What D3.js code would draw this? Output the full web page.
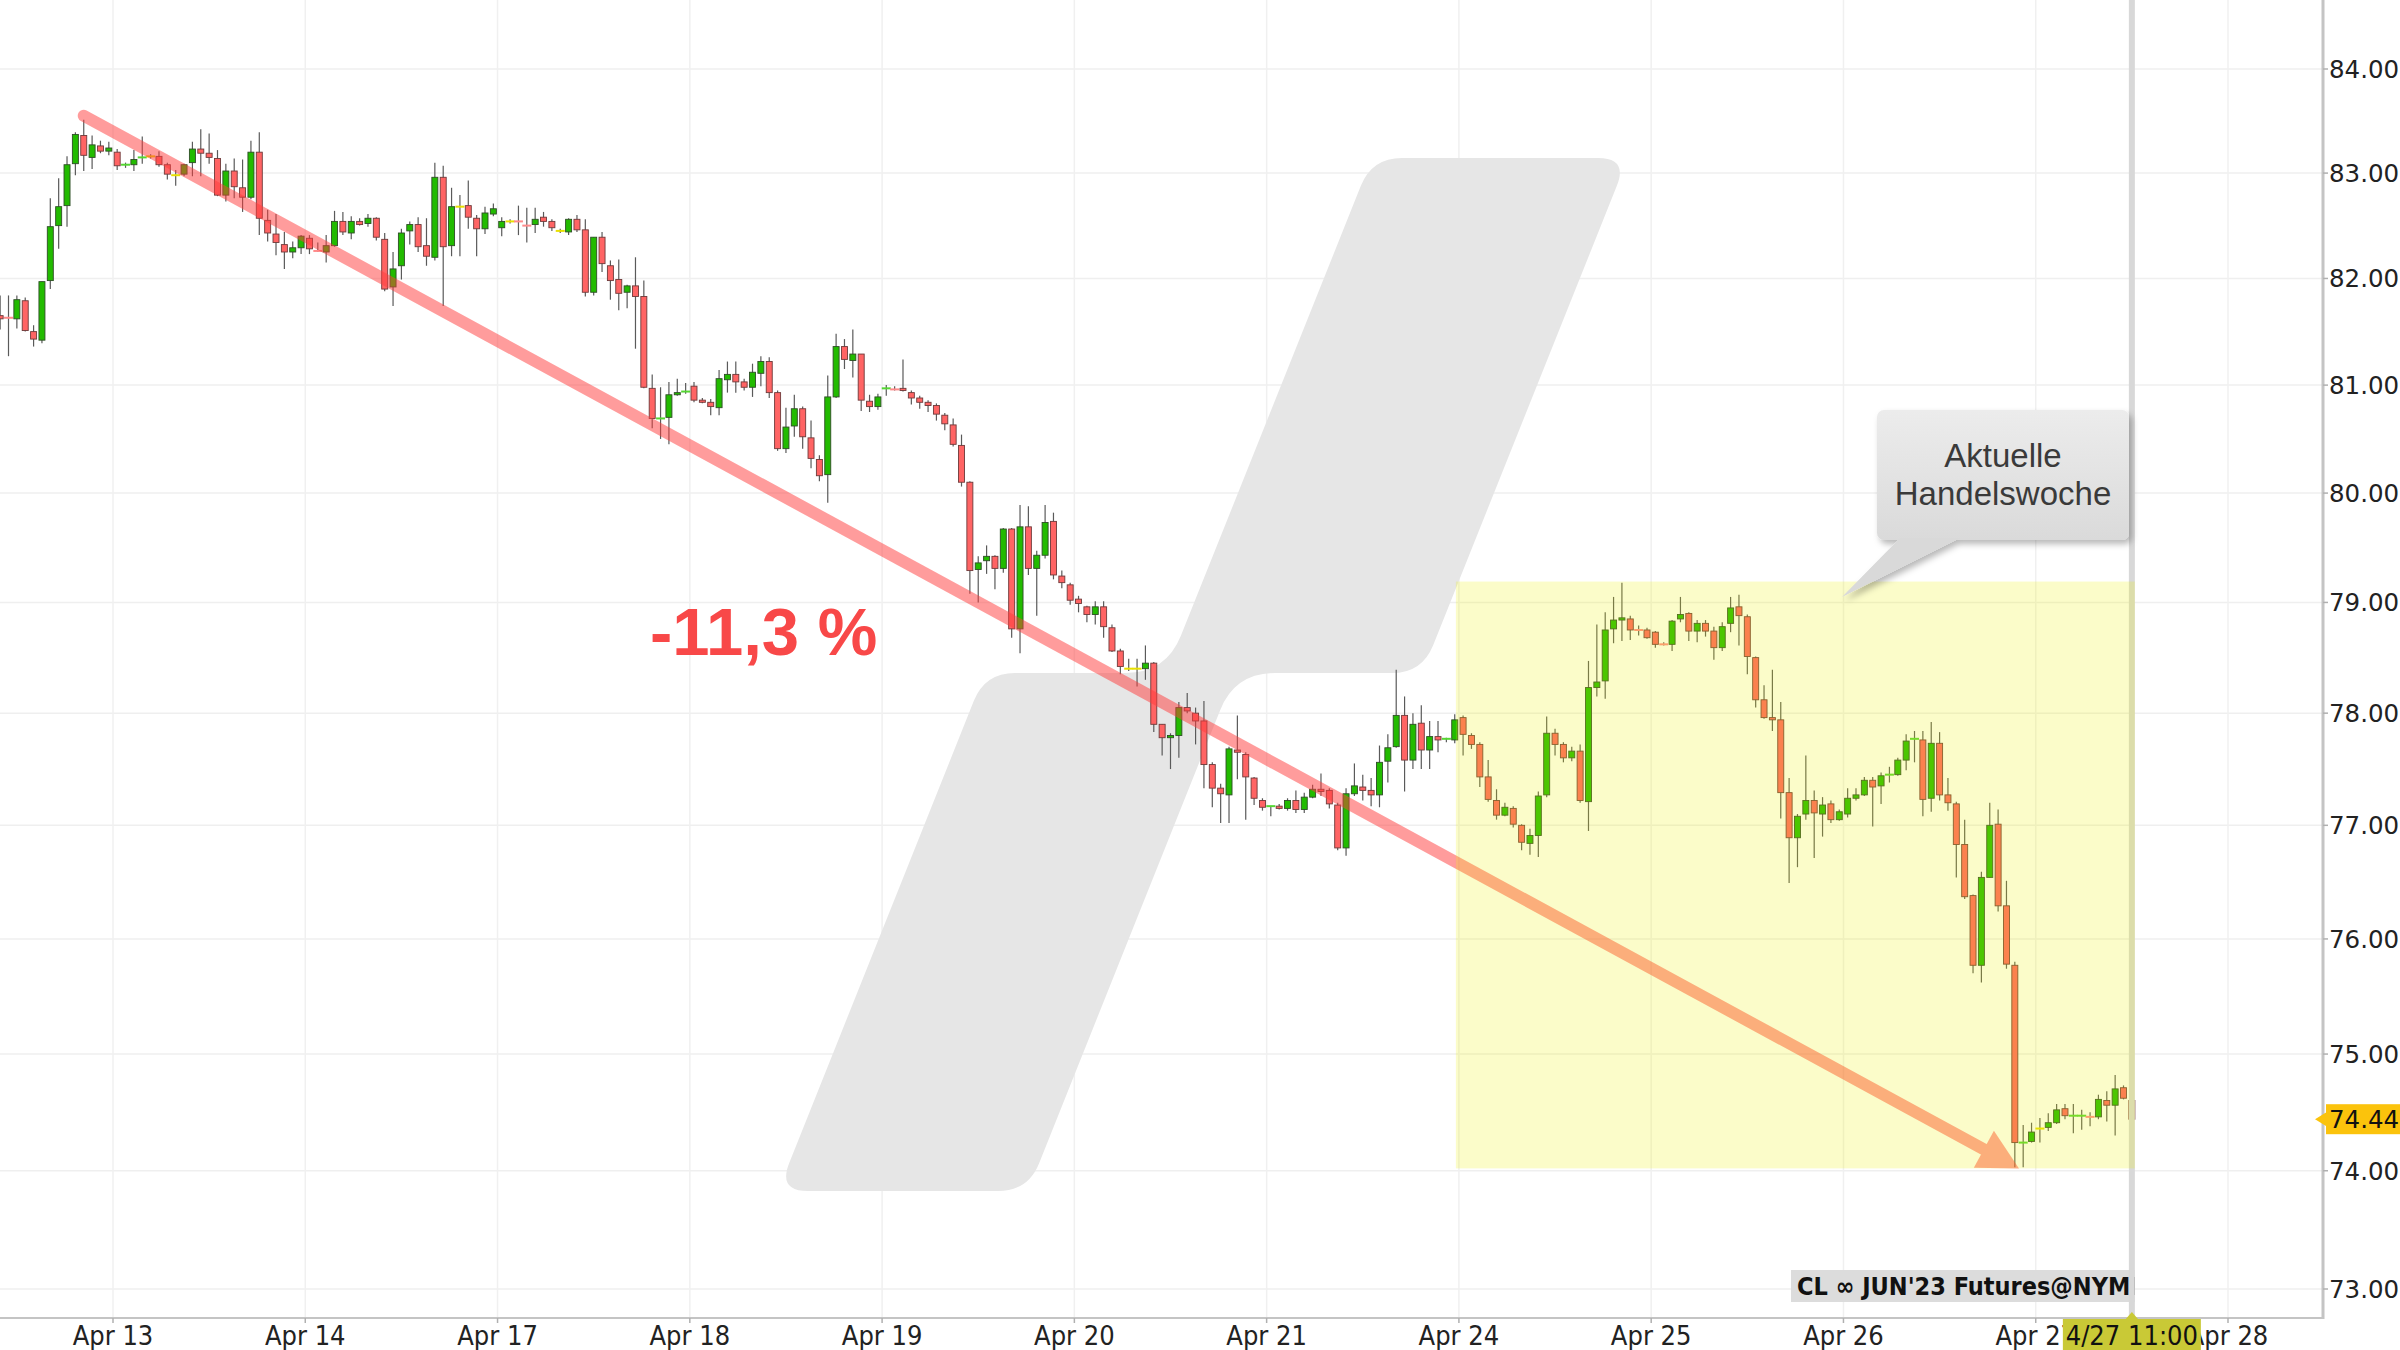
<!DOCTYPE html>
<html><head><meta charset="utf-8">
<script src="https://cdn.jsdelivr.net/npm/d3@7"></script>
<style>
html,body{margin:0;padding:0;background:#fff;}
svg{display:block;}
</style></head>
<body>
<svg id="chart" width="2400" height="1350"></svg>
<script>
// ---------------- DATA ----------------
const dayLabels = ["Apr 13","Apr 14","Apr 17","Apr 18","Apr 19","Apr 20","Apr 21","Apr 24","Apr 25","Apr 26","Apr 27","Apr 28"];
const slotsPerDay = 23;             // hourly candles per trading session
const firstSlot = -14;              // first candle, counted from the Apr 13 session start
const yTicks = [73,74,75,76,77,78,79,80,81,82,83,84];

const opens = [
81.65,81.64,81.62,81.79,81.50,81.42,81.98,82.50,82.69,83.09,83.36,83.15,83.26,83.21,
83.20,83.07,83.08,83.14,83.16,83.16,83.08,82.98,82.99,83.10,83.23,83.19,83.14,82.79,83.02,82.86,82.77,83.20,82.55,82.42,82.32,82.25,82.29,
82.38,82.27,82.25,82.31,82.54,82.43,82.54,82.52,82.57,82.37,81.92,82.12,82.45,82.51,82.31,82.20,82.96,82.31,82.68,82.69,82.57,82.47,82.61,
82.48,82.54,82.55,82.51,82.51,82.58,82.54,82.45,82.44,82.56,82.46,81.87,82.39,82.12,81.99,81.87,81.93,81.83,80.97,80.68,80.70,80.91,80.93,
80.99,80.86,80.84,80.79,81.05,81.10,81.03,80.98,81.11,81.22,80.93,80.41,80.62,80.78,80.51,80.31,80.17,80.89,81.36,81.23,81.29,80.85,80.80,
80.96,80.97,80.97,80.93,80.88,80.84,80.81,80.72,80.63,80.44,80.10,79.30,79.38,79.42,79.31,79.67,78.76,79.69,79.31,79.43,79.74,79.24,79.16,
79.03,78.96,78.89,78.96,78.77,78.56,78.40,78.40,78.40,78.45,77.90,77.78,77.80,78.05,78.00,77.93,77.54,77.33,77.27,77.67,77.63,77.42,77.22,
77.16,77.17,77.15,77.22,77.14,77.25,77.32,77.31,77.18,76.80,77.28,77.34,77.31,77.27,77.57,77.70,77.98,77.58,77.91,77.67,77.79,77.76,77.76,
77.96,77.80,77.72,77.43,77.22,77.09,77.15,77.00,76.84,76.91,77.27,77.82,77.72,77.60,77.66,77.21,78.23,78.29,78.76,78.84,78.85,78.76,78.75,
78.73,78.63,78.62,78.85,78.90,78.74,78.81,78.74,78.59,78.81,78.96,78.87,78.50,78.12,77.96,77.94,77.29,76.89,77.10,77.22,77.10,77.19,77.05,
77.10,77.24,77.27,77.40,77.35,77.44,77.45,77.58,77.76,77.76,77.24,77.73,77.27,77.19,76.83,76.38,75.77,76.54,77.01,76.29,75.77,
74.23,74.25,74.36,74.37,74.41,74.53,74.46,74.46,74.47,74.46,74.60,74.56,74.71,74.60
];
const highs = [
81.84,81.84,81.84,81.82,81.56,81.97,82.76,82.95,83.16,83.39,83.51,83.36,83.31,83.30,
83.23,83.10,83.22,83.35,83.18,83.21,83.10,83.03,83.09,83.30,83.42,83.38,83.22,83.09,83.14,83.13,83.31,83.39,82.65,82.61,82.44,82.35,82.41,
82.41,82.34,82.41,82.64,82.63,82.59,82.57,82.61,82.58,82.43,82.25,82.47,82.54,82.58,82.57,83.10,83.07,82.86,82.79,82.93,82.60,82.68,82.71,
82.58,82.56,82.69,82.67,82.67,82.63,82.56,82.47,82.57,82.60,82.56,82.39,82.44,82.17,82.18,81.94,82.20,81.98,81.10,80.98,81.03,81.06,81.02,
81.03,80.88,80.87,81.14,81.22,81.22,81.06,81.20,81.27,81.26,80.95,80.79,80.91,80.80,80.67,80.35,81.09,81.48,81.43,81.52,81.29,80.91,80.92,
81.00,80.99,81.24,80.95,80.90,80.86,80.83,80.74,80.69,80.54,80.11,79.42,79.52,79.43,79.68,79.68,79.89,79.88,79.47,79.89,79.82,79.29,79.18,
79.06,78.97,79.01,79.01,78.80,78.58,78.49,78.49,78.61,78.46,77.90,77.82,78.10,78.18,78.05,78.11,77.56,77.37,77.70,77.98,77.65,77.43,77.24,
77.17,77.19,77.24,77.31,77.29,77.36,77.46,77.33,77.20,77.33,77.55,77.45,77.42,77.71,77.81,78.39,78.15,78.00,78.07,77.93,77.93,77.78,77.99,
77.98,77.82,77.74,77.58,77.32,77.20,77.17,77.01,76.97,77.30,77.97,77.86,77.74,77.70,77.72,78.47,78.80,78.91,79.05,79.18,78.88,78.79,78.77,
78.74,78.64,78.84,79.05,78.91,78.84,78.84,78.78,78.82,79.05,79.07,78.89,78.51,78.25,78.39,78.10,77.42,77.10,77.62,77.31,77.25,77.22,77.14,
77.33,77.33,77.43,77.43,77.47,77.52,77.60,77.81,77.84,77.84,77.92,77.83,77.42,77.21,77.05,76.39,76.59,77.20,77.14,76.51,75.80,
74.39,74.41,74.45,74.49,74.57,74.57,74.57,74.52,74.50,74.65,74.68,74.82,74.73,74.63
];
const lows = [
81.52,81.27,81.53,81.50,81.36,81.39,81.90,82.28,82.49,82.98,83.02,83.04,83.19,83.17,
83.03,83.05,83.02,83.09,83.14,83.06,82.94,82.88,82.97,82.97,82.97,83.09,82.78,82.73,82.76,82.63,82.75,82.41,82.35,82.22,82.09,82.19,82.23,
82.23,82.25,82.15,82.30,82.41,82.37,82.50,82.49,82.36,81.88,81.74,81.99,82.32,82.25,82.12,82.17,81.74,82.21,82.21,82.47,82.21,82.42,82.59,
82.40,82.52,82.41,82.34,82.43,82.49,82.45,82.43,82.41,82.44,81.83,81.84,82.06,81.80,81.70,81.72,81.34,80.97,80.60,80.50,80.45,80.90,80.92,
80.84,80.83,80.72,80.72,80.93,80.93,80.95,80.89,80.99,80.88,80.39,80.37,80.52,80.41,80.23,80.11,79.91,80.88,81.15,81.07,80.76,80.75,80.77,
80.90,80.95,80.94,80.82,80.78,80.75,80.67,80.58,80.43,80.06,79.08,79.00,79.26,79.12,79.27,78.68,78.54,79.25,78.88,79.40,79.21,79.13,78.98,
78.91,78.82,78.80,78.68,78.55,78.35,78.38,78.24,78.30,77.83,77.62,77.50,77.60,78.00,77.72,77.33,77.16,77.02,77.02,77.41,77.05,77.18,77.13,
77.08,77.14,77.13,77.11,77.11,77.24,77.26,77.15,76.78,76.73,77.26,77.22,77.17,77.16,77.38,77.69,77.30,77.50,77.50,77.50,77.65,77.74,77.73,
77.62,77.68,77.34,77.21,77.05,77.08,76.98,76.78,76.74,76.72,77.25,77.62,77.56,77.57,77.20,76.95,78.15,78.13,78.63,78.65,78.66,78.70,78.67,
78.59,78.61,78.56,78.82,78.65,78.64,78.69,78.48,78.56,78.73,78.61,78.35,78.05,77.95,77.84,77.06,76.49,76.63,77.05,76.71,76.90,77.02,77.04,
77.07,77.22,77.26,76.99,77.19,77.38,77.44,77.49,77.56,77.08,77.12,77.22,77.13,76.54,76.35,75.70,75.62,76.54,76.24,75.74,74.03,
74.03,74.24,74.24,74.34,74.40,74.44,74.32,74.35,74.38,74.44,74.42,74.30,74.61,74.37
];
const closes = [
81.62,81.63,81.80,81.51,81.43,81.97,82.49,82.68,83.08,83.37,83.17,83.27,83.21,83.24,
83.07,83.08,83.13,83.15,83.16,83.08,82.99,82.98,83.08,83.23,83.19,83.15,82.79,83.02,82.87,82.77,83.20,82.57,82.43,82.34,82.25,82.29,82.40,
82.28,82.26,82.31,82.54,82.44,82.54,82.51,82.57,82.39,81.90,82.09,82.43,82.51,82.30,82.21,82.96,82.30,82.68,82.68,82.58,82.47,82.62,82.66,
82.54,82.54,82.54,82.50,82.56,82.54,82.48,82.45,82.56,82.46,81.87,82.39,82.14,81.98,81.86,81.93,81.83,80.98,80.69,80.69,80.91,80.93,80.94,
80.86,80.84,80.80,81.06,81.10,81.03,80.98,81.12,81.22,80.93,80.41,80.61,80.78,80.52,80.32,80.16,80.89,81.36,81.24,81.29,80.86,80.80,80.89,
80.97,80.96,80.95,80.88,80.84,80.81,80.73,80.64,80.45,80.10,79.29,79.36,79.42,79.31,79.67,78.76,79.69,79.31,79.43,79.73,79.25,79.18,79.02,
78.99,78.89,78.96,78.78,78.56,78.42,78.40,78.40,78.45,77.90,77.78,77.80,78.05,78.02,77.93,77.54,77.33,77.28,77.68,77.65,77.43,77.24,77.16,
77.17,77.15,77.22,77.14,77.25,77.32,77.30,77.19,76.80,77.28,77.35,77.31,77.27,77.56,77.69,77.98,77.58,77.90,77.67,77.79,77.76,77.77,77.94,
77.81,77.72,77.43,77.23,77.09,77.16,77.01,76.85,76.91,77.26,77.82,77.72,77.60,77.66,77.22,78.23,78.28,78.75,78.84,78.86,78.75,78.75,78.68,
78.62,78.62,78.83,78.89,78.74,78.81,78.74,78.59,78.78,78.95,78.88,78.51,78.12,77.96,77.94,77.29,76.89,77.08,77.22,77.11,77.18,77.05,77.12,
77.24,77.27,77.40,77.34,77.44,77.45,77.58,77.75,77.77,77.23,77.73,77.27,77.20,76.83,76.37,75.77,76.54,77.00,76.29,75.78,74.24,
74.24,74.33,74.36,74.41,74.52,74.47,74.47,74.47,74.46,74.61,74.56,74.70,74.62,74.44
];

const lastPrice = 74.44;
const crosshairLabel = "4/27 11:00";
const instrumentLabel = "CL \u221E JUN'23 Futures@NYMEX";
const changeLabel = "-11,3 %";
const calloutLines = ["Aktuelle", "Handelswoche"];
const trendFrom = {slot: -3.5, price: 83.55};
const trendTo   = {slot: 228,  price: 74.02};
const weekFromSlot = 161, weekTop = 79.19, weekBottom = 74.02;

// ---------------- LAYOUT ----------------
const W = 2400, H = 1350, plotRight = 2323, plotBottom = 1318;
const x = d3.scaleLinear().domain([0, 11 * slotsPerDay]).range([113, 2228]);
const y = d3.scaleLog().domain([73, 84]).range([1289, 69]);
const candles = opens.map((o, k) => ({slot: firstSlot + k, o, h: highs[k], l: lows[k], c: closes[k]}));
const lastSlot = candles[candles.length - 1].slot;
const crossX = x(lastSlot + 0.5);

const svg = d3.select("#chart");
const defs = svg.append("defs");
defs.append("clipPath").attr("id", "plotClip").append("rect")
  .attr("x", 0).attr("y", 0).attr("width", plotRight).attr("height", plotBottom);
defs.append("clipPath").attr("id", "instClip").append("rect")
  .attr("x", 0).attr("y", 0).attr("width", crossX + 3).attr("height", plotBottom);
const sh = defs.append("filter").attr("id", "shadow").attr("x", "-10%").attr("y", "-10%").attr("width", "130%").attr("height", "140%");
sh.append("feDropShadow").attr("dx", 3).attr("dy", 4).attr("stdDeviation", 3).attr("flood-color", "#000").attr("flood-opacity", 0.28);
const grad = defs.append("linearGradient").attr("id", "calloutGrad").attr("x1", 0).attr("y1", 0).attr("x2", 0).attr("y2", 1);
grad.append("stop").attr("offset", "0%").attr("stop-color", "#ececec");
grad.append("stop").attr("offset", "100%").attr("stop-color", "#dadada");

svg.append("rect").attr("width", W).attr("height", H).attr("fill", "#fff");

const plot = svg.append("g").attr("clip-path", "url(#plotClip)");

// grid
plot.append("g").selectAll("line").data(yTicks).join("line")
  .attr("x1", 0).attr("x2", plotRight).attr("y1", d => y(d)).attr("y2", d => y(d))
  .attr("stroke", "#efefef").attr("stroke-width", 1.5);
plot.append("g").selectAll("line").data(dayLabels).join("line")
  .attr("x1", (d, i) => x(i * slotsPerDay)).attr("x2", (d, i) => x(i * slotsPerDay))
  .attr("y1", 0).attr("y2", plotBottom)
  .attr("stroke", "#f0f0f0").attr("stroke-width", 1.5);

// watermark logo
function roundedPath(pts, r) {
  let d = "";
  const n = pts.length;
  for (let i = 0; i < n; i++) {
    const p = pts[i], a = pts[(i - 1 + n) % n], b = pts[(i + 1) % n];
    const l1 = Math.hypot(a[0] - p[0], a[1] - p[1]), l2 = Math.hypot(b[0] - p[0], b[1] - p[1]);
    const s = [p[0] + (a[0] - p[0]) / l1 * r[i], p[1] + (a[1] - p[1]) / l1 * r[i]];
    const e = [p[0] + (b[0] - p[0]) / l2 * r[i], p[1] + (b[1] - p[1]) / l2 * r[i]];
    d += (i === 0 ? "M" : "L") + s[0] + "," + s[1] + "Q" + p[0] + "," + p[1] + " " + e[0] + "," + e[1];
  }
  return d + "Z";
}
const logoPts = [[778,1191],[985,673],[1166,673],[1372,158],[1628,158],[1422,673],[1235,673],[1028,1191]];
plot.append("path").attr("d", roundedPath(logoPts, [30,30,40,30,30,30,40,30])).attr("fill", "#e6e6e6");

// candles
const cg = plot.append("g");
const upC = "#22bb00", dnC = "#ff6464";
cg.selectAll("line.wick").data(candles).join("line").attr("class", "wick")
  .attr("x1", d => x(d.slot + 0.5)).attr("x2", d => x(d.slot + 0.5))
  .attr("y1", d => y(Math.max(d.h, d.o, d.c))).attr("y2", d => y(Math.min(d.l, d.o, d.c)))
  .attr("stroke", "#5a5a5a").attr("stroke-width", 1.2);
const bodies = candles.filter(d => Math.abs(d.c - d.o) >= 0.015);
const dashes = candles.filter(d => Math.abs(d.c - d.o) < 0.015);
cg.selectAll("rect.body").data(bodies).join("rect").attr("class", "body")
  .attr("x", d => x(d.slot + 0.5) - 3).attr("width", 6)
  .attr("y", d => y(Math.max(d.o, d.c)))
  .attr("height", d => Math.max(1.5, y(Math.min(d.o, d.c)) - y(Math.max(d.o, d.c))))
  .attr("fill", d => d.c > d.o ? upC : dnC)
  .attr("stroke", d => d.c > d.o ? "#2e4d26" : "#6e3a3a").attr("stroke-width", 0.9);
cg.selectAll("line.dash").data(dashes).join("line").attr("class", "dash")
  .attr("x1", d => x(d.slot + 0.5) - 4.5).attr("x2", d => x(d.slot + 0.5) + 4.5)
  .attr("y1", d => y(d.c)).attr("y2", d => y(d.c))
  .attr("stroke", d => d.c > d.o ? "#55d633" : (d.c < d.o ? "#ff8a8a" : "#e8e000"))
  .attr("stroke-width", 2);

// trend arrow
const ax0 = x(trendFrom.slot), ay0 = y(trendFrom.price), ax1 = x(trendTo.slot), ay1 = y(trendTo.price);
const ang = Math.atan2(ay1 - ay0, ax1 - ax0), ux = Math.cos(ang), uy = Math.sin(ang);
const headL = 40, headW = 21;
const bx = ax1 - ux * headL, by = ay1 - uy * headL;
const arrowG = plot.append("g").attr("opacity", 0.5);
arrowG.append("line").attr("x1", ax0).attr("y1", ay0).attr("x2", bx + ux * 4).attr("y2", by + uy * 4)
  .attr("stroke", "#ff3c3c").attr("stroke-width", 12).attr("stroke-linecap", "round");
arrowG.append("path")
  .attr("d", `M${ax1},${ay1}L${bx - uy * headW},${by + ux * headW}L${bx + uy * headW},${by - ux * headW}Z`)
  .attr("fill", "#ff3c3c");

// instrument label (cut off by the crosshair line)
const instG = plot.append("g").attr("clip-path", "url(#instClip)");
instG.append("rect").attr("x", 1791).attr("y", 1270).attr("width", 360).attr("height", 32).attr("fill", "#dcdcdc");
instG.append("text").attr("x", 1797).attr("y", 1295).text(instrumentLabel)
  .attr("font-family", "DejaVu Sans Condensed, DejaVu Sans").attr("font-stretch", "condensed")
  .attr("font-weight", "bold").attr("font-size", 25).attr("fill", "#111");

// crosshair
plot.append("line").attr("x1", crossX).attr("x2", crossX).attr("y1", 0).attr("y2", plotBottom)
  .attr("stroke", "#d8d8d8").attr("stroke-width", 6);

// current week highlight
plot.append("rect").attr("x", x(weekFromSlot) - 3).attr("y", y(weekTop))
  .attr("width", crossX + 3 - (x(weekFromSlot) - 3)).attr("height", y(weekBottom) - y(weekTop))
  .attr("fill", "#ebf000").attr("fill-opacity", 0.21);

// change label
svg.append("text").attr("x", 650).attr("y", 655).text(changeLabel)
  .attr("font-family", "Liberation Sans, Arial").attr("font-weight", "bold").attr("font-size", 67)
  .attr("fill", "#f84848");

// callout
const co = svg.append("g").attr("filter", "url(#shadow)");
co.append("rect").attr("x", 1877).attr("y", 410).attr("width", 252).attr("height", 130).attr("rx", 7)
  .attr("fill", "url(#calloutGrad)");
co.append("path").attr("d", "M1900,538L1960,538L1842,597Z").attr("fill", "#d9d9d9");
svg.append("g").selectAll("text").data(calloutLines).join("text")
  .attr("x", 2003).attr("y", (d, i) => 467 + i * 38).attr("text-anchor", "middle").text(d => d)
  .attr("font-family", "Liberation Sans, Arial").attr("font-size", 33).attr("fill", "#3a3a3a");

// axes
svg.append("line").attr("x1", 0).attr("x2", plotRight + 1).attr("y1", plotBottom).attr("y2", plotBottom)
  .attr("stroke", "#c4c4c4").attr("stroke-width", 2);
svg.append("line").attr("x1", plotRight).attr("x2", plotRight).attr("y1", 0).attr("y2", plotBottom + 1)
  .attr("stroke", "#c4c4c4").attr("stroke-width", 3);
svg.append("g").selectAll("line").data(dayLabels).join("line")
  .attr("x1", (d, i) => x(i * slotsPerDay)).attr("x2", (d, i) => x(i * slotsPerDay))
  .attr("y1", plotBottom).attr("y2", plotBottom + 5).attr("stroke", "#b0b0b0").attr("stroke-width", 1.5);
svg.append("g").selectAll("text").data(dayLabels).join("text")
  .attr("x", (d, i) => x(i * slotsPerDay)).attr("y", 1345).attr("text-anchor", "middle").text(d => d)
  .attr("font-family", "DejaVu Sans Condensed, DejaVu Sans").attr("font-stretch", "condensed")
  .attr("font-size", 27).attr("fill", "#222");
svg.append("g").selectAll("line").data(yTicks).join("line")
  .attr("x1", plotRight).attr("x2", plotRight + 5).attr("y1", d => y(d)).attr("y2", d => y(d))
  .attr("stroke", "#b0b0b0").attr("stroke-width", 1.5);
svg.append("g").selectAll("text").data(yTicks).join("text")
  .attr("x", 2329).attr("y", d => y(d) + 9).text(d => d.toFixed(2))
  .attr("font-family", "DejaVu Sans").attr("font-size", 24.5).attr("fill", "#222");

// last price marker
const lp = svg.append("g");
lp.append("path").attr("d", `M2315,${y(lastPrice)}L2328,${y(lastPrice) - 8}L2328,${y(lastPrice) + 8}Z`).attr("fill", "#fbc30c");
lp.append("rect").attr("x", 2326).attr("y", y(lastPrice) - 15).attr("width", 74).attr("height", 30).attr("fill", "#fbc30c");
lp.append("text").attr("x", 2329).attr("y", y(lastPrice) + 9).text(lastPrice.toFixed(2))
  .attr("font-family", "DejaVu Sans").attr("font-size", 24.5).attr("fill", "#111");

// crosshair time label
const tl = svg.append("g");
tl.append("path").attr("d", `M${crossX - 7},${plotBottom + 2}L${crossX},${plotBottom - 6}L${crossX + 7},${plotBottom + 2}Z`).attr("fill", "#c9c936");
tl.append("rect").attr("x", crossX - 69).attr("y", plotBottom + 1).attr("width", 138).attr("height", 31).attr("fill", "#c9c936");
tl.append("text").attr("x", crossX).attr("y", 1345).attr("text-anchor", "middle").text(crosshairLabel)
  .attr("font-family", "DejaVu Sans Condensed, DejaVu Sans").attr("font-stretch", "condensed")
  .attr("font-size", 27).attr("fill", "#111");
</script>
</body></html>
